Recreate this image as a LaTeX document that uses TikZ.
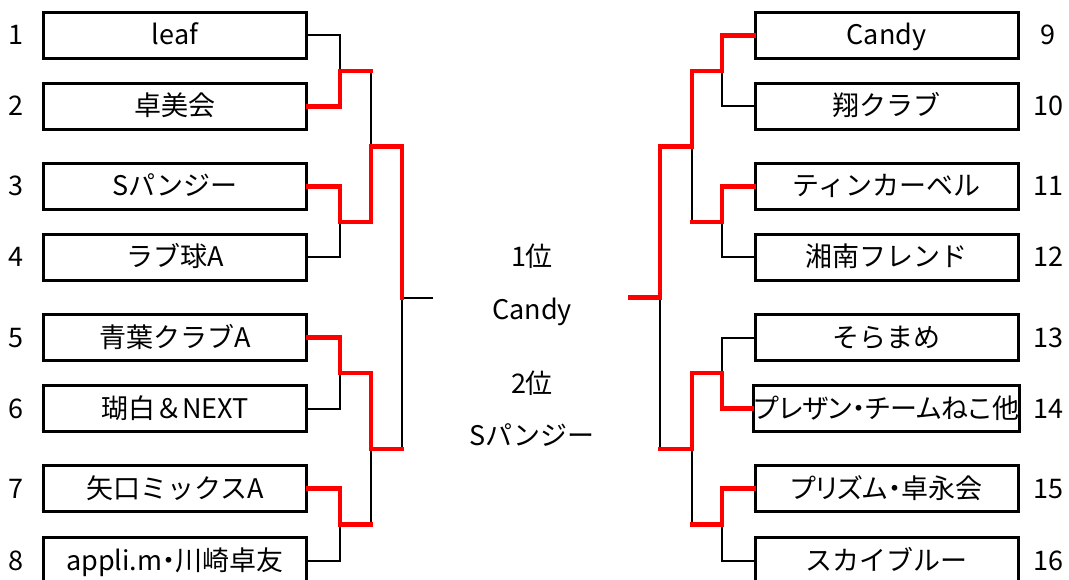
\documentclass[tikz,border=0pt]{standalone}
\usepackage{fontspec}
\setmainfont{Noto Sans CJK JP}
\definecolor{WinRed}{HTML}{FF0000}
\newcommand{\tightkana}{\addfontfeature{RawFeature=+palt}}

\begin{document}
\begin{tikzpicture}[x=1pt,y=-1pt,
    teambox/.style={draw,line width=3pt,minimum width=263pt,minimum height=46pt,inner sep=0pt,text height=23pt,text depth=4pt,font=\fontsize{27}{30}\selectfont},
    seed/.style={inner sep=0pt,text height=23pt,text depth=4pt,font=\fontsize{27}{30}\selectfont},
    lose/.style={line width=2pt,black},
    win/.style={line width=4.2pt,WinRed,line cap=rect}]
    \path[use as bounding box,fill=white] (0,0) rectangle (1069,580);
    \clip (0,0) rectangle (1069,580);
    % left half
    \node[teambox] (l1) at (175,35.5) {leaf}; \node[seed] (n1) at (16,35.5) {1};
    \node[teambox] (l2) at (175,106.5) {卓美会}; \node[seed] (n2) at (16,106.5) {2};
    \node[teambox] (l3) at (175,186.5) {Sパンジー}; \node[seed] (n3) at (16,186.5) {3};
    \node[teambox] (l4) at (175,257.5) {ラブ球A}; \node[seed] (n4) at (16,257.5) {4};
    \node[teambox] (l5) at (175,337.5) {青葉クラブA}; \node[seed] (n5) at (16,337.5) {5};
    \node[teambox] (l6) at (175,408.5) {瑚白＆NEXT}; \node[seed] (n6) at (16,408.5) {6};
    \node[teambox] (l7) at (175,488.5) {矢口ミックスA}; \node[seed] (n7) at (16,488.5) {7};
    \node[teambox] (l8) at (175,560.5) {\tightkana appli.m・川崎卓友}; \node[seed] (n8) at (16,560.5) {8};
    % right half
    \node[teambox] (r9) at (886.5,35.5) {Candy}; \node[seed] (n9) at (1048,35.5) {9};
    \node[teambox] (r10) at (886.5,106.5) {翔クラブ}; \node[seed] (n10) at (1048,106.5) {10};
    \node[teambox] (r11) at (886.5,186.5) {ティンカーベル}; \node[seed] (n11) at (1048,186.5) {11};
    \node[teambox] (r12) at (886.5,257.5) {湘南フレンド}; \node[seed] (n12) at (1048,257.5) {12};
    \node[teambox] (r13) at (886.5,337.5) {そらまめ}; \node[seed] (n13) at (1048,337.5) {13};
    \node[teambox] (r14) at (886.5,408.5) {\tightkana プレザン・チームねこ他}; \node[seed] (n14) at (1048,408.5) {14};
    \node[teambox] (r15) at (886.5,488.5) {\tightkana プリズム・卓永会}; \node[seed] (n15) at (1048,488.5) {15};
    \node[teambox] (r16) at (886.5,560.5) {スカイブルー}; \node[seed] (n16) at (1048,560.5) {16};
    % result
    \node[seed] (first) at (532,257) {1位};
    \node[seed] (champ) at (532,310) {Candy};
    \node[seed] (second) at (532,384) {2位};
    \node[seed] (runner) at (532,436) {Sパンジー};
    % junctions
    \coordinate (A1) at (340,71); \coordinate (A2) at (340,222);
    \coordinate (A3) at (340,373); \coordinate (A4) at (340,524.5);
    \coordinate (B1) at (371,146.5); \coordinate (B2) at (371,448.75);
    \coordinate (C1) at (402,297.6); \coordinate (F1) at (433,297.6);
    \coordinate (A5) at (722,71); \coordinate (A6) at (722,222);
    \coordinate (A7) at (722,373); \coordinate (A8) at (722,524.5);
    \coordinate (B3) at (692,146.5); \coordinate (B4) at (692,448.75);
    \coordinate (C2) at (660,297.6); \coordinate (F2) at (630,297.6);
    % lost lines
    \draw[lose] (l1.east) -| (A1); \draw[lose] (l4.east) -| (A2);
    \draw[lose] (l6.east) -| (A3); \draw[lose] (l8.east) -| (A4);
    \draw[lose] (A1 -| B1) -- (B1); \draw[lose] (A4 -| B2) -- (B2);
    \draw[lose] (B2 -| C1) -- (C1); \draw[lose] (C1) -- (F1);
    \draw[lose] (r10.west) -| (A5); \draw[lose] (r12.west) -| (A6);
    \draw[lose] (r13.west) -| (A7); \draw[lose] (r16.west) -| (A8);
    \draw[lose] (A6 -| B3) -- (B3); \draw[lose] (A8 -| B4) -- (B4);
    \draw[lose] (B4 -| C2) -- (C2);
    % won lines
    \draw[win] (l2.east) -| (A1) -- (A1 -| B1);
    \draw[win] (l3.east) -| (A2) -- (A2 -| B1) -- (B1) -- (B1 -| C1) -- (C1);
    \draw[win] (l5.east) -| (A3) -- (A3 -| B2) -- (B2) -- (B2 -| C1);
    \draw[win] (l7.east) -| (A4) -- (A4 -| B2);
    \draw[win] (r9.west) -| (A5) -- (A5 -| B3) -- (B3) -- (B3 -| C2) -- (C2) -- (F2);
    \draw[win] (r11.west) -| (A6) -- (A6 -| B3);
    \draw[win] (r14.west) -| (A7) -- (A7 -| B4) -- (B4) -- (B4 -| C2);
    \draw[win] (r15.west) -| (A8) -- (A8 -| B4);
  \end{tikzpicture}
\end{document}
